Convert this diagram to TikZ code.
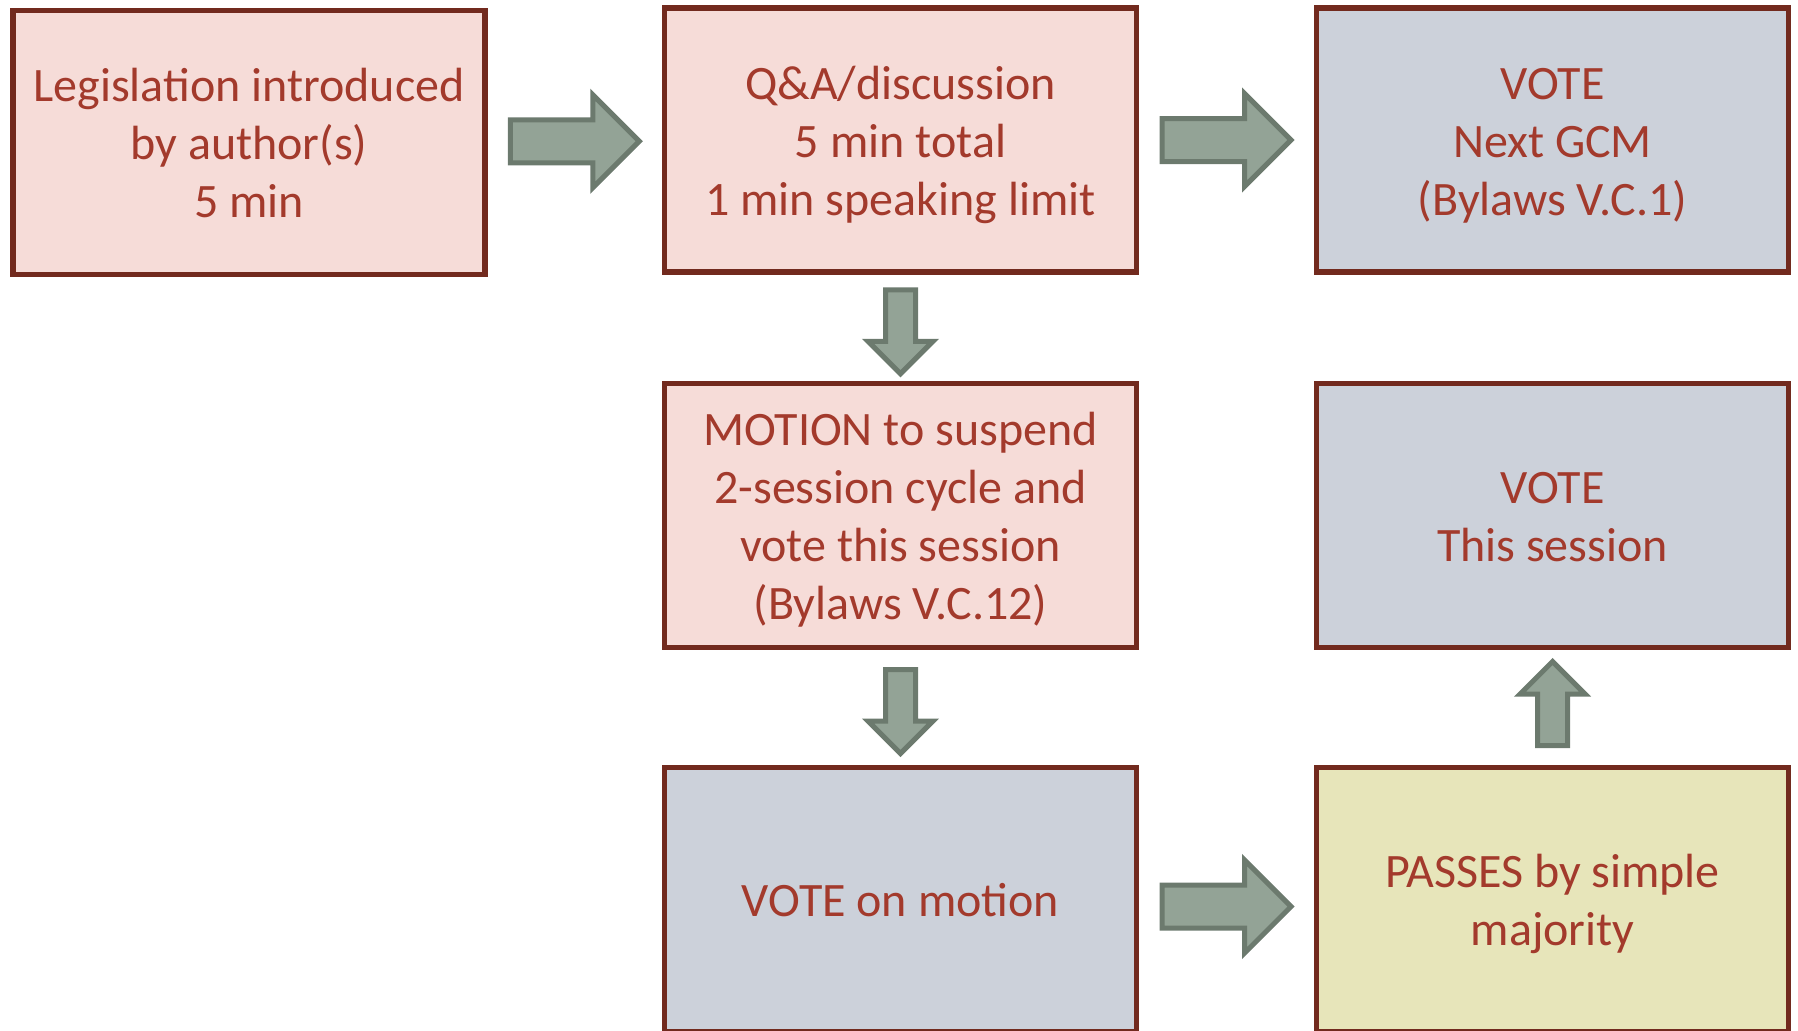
\documentclass[tikz,border=0pt]{standalone}
\usepackage{fontspec}
\setmainfont{Carlito}
\usetikzlibrary{calc}
\definecolor{boxline}{HTML}{722A1E}
\definecolor{boxtext}{HTML}{A33A2C}
\definecolor{boxpink}{HTML}{F6DCD8}
\definecolor{boxgrey}{HTML}{CCD1DA}
\definecolor{boxyellow}{HTML}{E7E5BA}
\definecolor{arrowfill}{HTML}{93A396}
\definecolor{arrowedge}{HTML}{6C7A6E}
\newcommand{\topstrut}{\rule{0pt}{23pt}}
\tikzset{
  stepbox/.style={draw=boxline, line width=2.75pt, minimum width=236pt, minimum height=132pt,
    inner sep=0pt, align=center, text=boxtext, font=\fontsize{24}{29}\selectfont,
    execute at end node={\rule[-6pt]{0pt}{6pt}}},
  pinkbox/.style={stepbox, fill=boxpink},
  greybox/.style={stepbox, fill=boxgrey},
  yellowbox/.style={stepbox, fill=boxyellow},
  arrowline/.style={draw=arrowedge, fill=arrowfill, line width=2.5pt, line join=miter},
  % length, half shaft, half head (= head length)
  pics/flowarrow/.style n args={3}{code={
    \draw[arrowline] (-#1/2,-#2) -- (#1/2-#3,-#2) -- (#1/2-#3,-#3) -- (#1/2,0)
      -- (#1/2-#3,#3) -- (#1/2-#3,#2) -- (-#1/2,#2) -- cycle;
  }}
}
\begin{document}
\begin{tikzpicture}[x=0.5pt,y=-0.5pt]
\useasboundingbox (0,0) rectangle (1798,1030);
\clip (0,0) rectangle (1798,1030);

\node[pinkbox] (leg) at (249,142.5) {\topstrut Legislation introduced\\by author(s)\\5 min};
\node[pinkbox] (qa) at (900.5,140) {\topstrut Q\&A/discussion\\5 min total\\1 min speaking limit};
\node[greybox] (nextvote) at (1552.5,140) {\topstrut VOTE\\Next GCM\\(Bylaws V.C.1)};
\node[pinkbox] (motion) at (900.5,515.5) {\topstrut MOTION to suspend\\2-session cycle and\\vote this session\\(Bylaws V.C.12)};
\node[greybox] (thisvote) at (1552.5,515.5) {\topstrut VOTE\\This session};
\node[greybox] (motionvote) at (900.5,899.5) {\topstrut VOTE on motion};
\node[yellowbox] (passes) at (1552.5,899.5) {\topstrut PASSES by simple\\majority};

\pic at ($(leg.east)!.5!(qa.west)$) {flowarrow={129}{21.5}{46.5}};
\pic at ($(qa.east)!.5!(nextvote.west)$) {flowarrow={129}{21.5}{46.5}};
\pic at ($(motionvote.east)!.5!(passes.west)+(0,7)$) {flowarrow={129}{21.5}{46.5}};
\pic[rotate=-90] at ($(qa.south)!.5!(motion.north)+(0,4)$) {flowarrow={84}{15}{32.5}};
\pic[rotate=-90] at ($(motion.south)!.5!(motionvote.north)+(0,4)$) {flowarrow={84}{15}{32.5}};
\pic[rotate=90] at ($(passes.north)!.5!(thisvote.south)+(0,-4)$) {flowarrow={84}{15}{32.5}};
\end{tikzpicture}
\end{document}
